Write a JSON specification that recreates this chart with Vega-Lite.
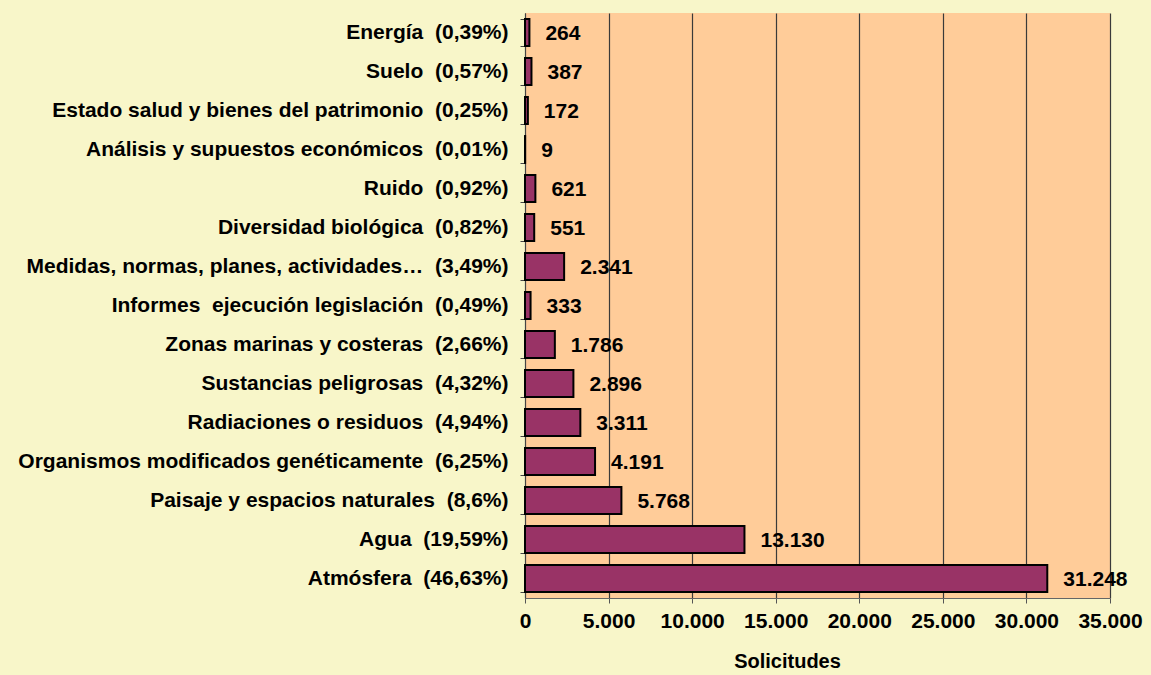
{
  "$schema": "https://vega.github.io/schema/vega-lite/v6.json",
  "autosize": "none",
  "width": 585,
  "height": 585,
  "padding": {"left": 525, "top": 13, "right": 41, "bottom": 77},
  "background": "#F8F6C9",
  "config": {
    "locale": {"number": {"decimal": ",", "thousands": ".", "grouping": [3], "currency": ["", " €"]}},
    "font": "Liberation Sans",
    "view": {"fill": "#FFCC99", "stroke": null}
  },
  "data": {
    "values": [
      {"cat": "Energía \u00a0(0,39%)", "v": 264},
      {"cat": "Suelo \u00a0(0,57%)", "v": 387},
      {"cat": "Estado salud y bienes del patrimonio \u00a0(0,25%)", "v": 172},
      {"cat": "Análisis y supuestos económicos \u00a0(0,01%)", "v": 9},
      {"cat": "Ruido \u00a0(0,92%)", "v": 621},
      {"cat": "Diversidad biológica \u00a0(0,82%)", "v": 551},
      {"cat": "Medidas, normas, planes, actividades… \u00a0(3,49%)", "v": 2341},
      {"cat": "Informes \u00a0ejecución legislación \u00a0(0,49%)", "v": 333},
      {"cat": "Zonas marinas y costeras \u00a0(2,66%)", "v": 1786},
      {"cat": "Sustancias peligrosas \u00a0(4,32%)", "v": 2896},
      {"cat": "Radiaciones o residuos \u00a0(4,94%)", "v": 3311},
      {"cat": "Organismos modificados genéticamente \u00a0(6,25%)", "v": 4191},
      {"cat": "Paisaje y espacios naturales \u00a0(8,6%)", "v": 5768},
      {"cat": "Agua \u00a0(19,59%)", "v": 13130},
      {"cat": "Atmósfera \u00a0(46,63%)", "v": 31248}
    ]
  },
  "encoding": {
    "y": {
      "field": "cat", "type": "nominal", "sort": null,
      "scale": {"paddingInner": 0.31, "paddingOuter": 0.155},
      "axis": {
        "title": null, "labelFontSize": 21, "labelFontWeight": "bold", "labelColor": "#000",
        "labelPadding": 12, "labelLimit": 600, "tickSize": 5, "tickBand": "extent",
        "tickColor": "#444", "domainColor": "#444", "grid": false
      }
    },
    "x": {
      "field": "v", "type": "quantitative",
      "scale": {"domain": [0, 35000], "nice": false},
      "axis": {
        "title": "Solicitudes", "titleFontSize": 20, "titleFontWeight": "bold", "titleColor": "#000",
        "titlePadding": 20, "titleX": 262, "values": [0, 5000, 10000, 15000, 20000, 25000, 30000, 35000],
        "format": ",d", "labelFontSize": 21, "labelFontWeight": "bold", "labelColor": "#000",
        "labelPadding": 7, "tickSize": 5, "tickColor": "#555", "domainColor": "#666",
        "grid": true, "gridColor": "#3a3a3a", "gridWidth": 1.2, "labelFlush": false
      }
    }
  },
  "layer": [
    {
      "mark": {"type": "bar", "fill": "#993366", "stroke": "#000", "strokeWidth": 2}
    },
    {
      "mark": {"type": "text", "align": "left", "baseline": "middle", "dx": 16, "dy": 1, "fontSize": 21, "fontWeight": "bold", "color": "#000"},
      "encoding": {"text": {"field": "v", "type": "quantitative", "format": ",d"}}
    }
  ]
}
